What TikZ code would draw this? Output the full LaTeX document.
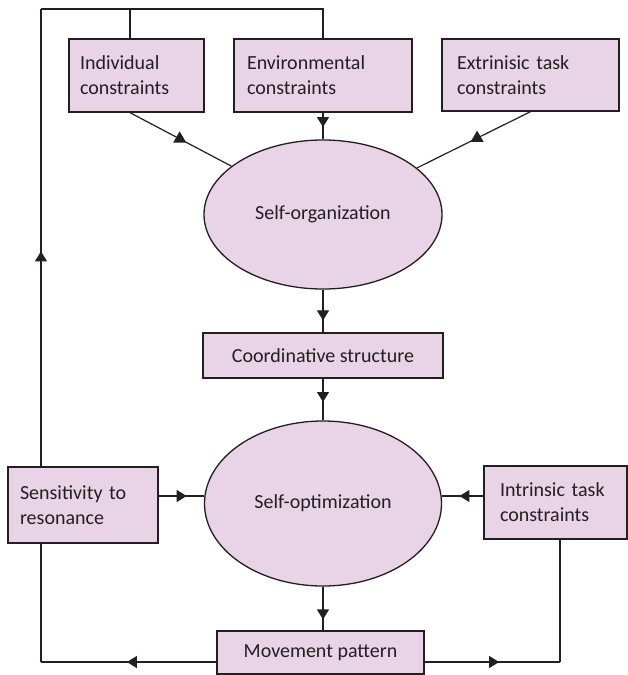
\documentclass[tikz,border=0pt]{standalone}
\usepackage{fontspec}
\setmainfont{Carlito}
\usetikzlibrary{shapes.geometric,arrows.meta,decorations.markings}
\definecolor{boxfill}{HTML}{E8D4E6}
\definecolor{ink}{HTML}{231F20}
\begin{document}
\begin{tikzpicture}[x=1pt,y=-1pt,
  every node/.style={font=\fontsize{20}{25}\selectfont, text=ink},
  cbox/.style={draw=ink, fill=boxfill, line width=1.3pt, align=left, inner ysep=0pt},
  oval/.style={ellipse, draw=ink, fill=boxfill, line width=1.3pt, inner sep=0pt},
  link/.style={draw=ink, line width=1.2pt},
  tipat/.style={decoration={markings, mark=at position #1 with {\arrow{Triangle[width=12pt,length=10pt]}}}, postaction={decorate}},
  uptri/.style={regular polygon, regular polygon sides=3, fill=ink, inner sep=0pt, minimum size=15pt},
  marktri/.style={decoration={markings, mark=at position #1 with {\node[uptri]{};}}, postaction={decorate}}]
\useasboundingbox (0,0) rectangle (628,675);

% constraint boxes
\node[cbox, text width=113pt, inner xsep=11pt, minimum height=73pt] (ind) at (136.5,75.5) {Individual\\constraints};
\node[cbox, text width=152pt, inner xsep=13pt, minimum height=73pt] (env) at (323,75.5) {Environmental\\constraints};
\node[cbox, text width=147pt, inner xsep=15pt, minimum height=72pt] (ext) at (530.5,75) {Extrinisic task\\constraints};

% central column
\node[oval, minimum width=238pt, minimum height=149pt] (org) at (323,214.5) {Self-organization};
\node[cbox, align=center, minimum width=240pt, minimum height=45pt] (crd) at (323,355.5) {Coordinative structure};
\node[oval, minimum width=237pt, minimum height=165pt] (opt) at (323,503.5) {Self-optimization};
\node[cbox, align=center, minimum width=207pt, minimum height=43pt] (mov) at (320.5,652.5) {Movement pattern};

% side boxes
\node[cbox, text width=126pt, inner xsep=12pt, minimum height=76pt] (sen) at (83,505) {Sensitivity to\\resonance};
\node[cbox, text width=111pt, inner xsep=16pt, minimum height=73pt] (itr) at (555.5,502.5) {Intrinsic task\\constraints};

% corners of the feedback loops
\coordinate (tl) at (41,9);
\coordinate (tm) at (130,9);
\coordinate (tr) at (323,9);
\coordinate (bl) at (41,662);
\coordinate (br) at (560,662);
\coordinate (mid) at (0,496);

% feedback from sensitivity to the constraints
\draw[link, tipat=0.47] (sen.north -| tl) -- (tl);
\draw[link] (tl) -- (tr) -- (env.north -| tr);
\draw[link] (tm) -- (ind.north -| tm);

% constraints into self-organization
\draw[link, marktri=0.49] (ind.south -| tm) -- (org);
\draw[link, tipat=0.54] (env) -- (org);
\draw[link, marktri=0.47] (ext.south) -- (org);

% main flow
\draw[link, tipat=0.72] (org) -- (crd);
\draw[link, tipat=0.56] (crd) -- (opt);
\draw[link, tipat=0.75] (opt) -- (mov.north -| opt);

% inputs to self-optimization
\draw[link, tipat=0.62] (sen.east |- mid) -- (opt.west |- mid);
\draw[link, tipat=0.58] (itr.west |- mid) -- (opt.east |- mid);

% movement pattern feeding back
\draw[link, tipat=0.51] (mov.west |- bl) -- (bl);
\draw[link] (bl) -- (sen.south -| bl);
\draw[link, tipat=0.55] (mov.east |- br) -- (br);
\draw[link] (br) -- (itr.south -| br);
\end{tikzpicture}
\end{document}
